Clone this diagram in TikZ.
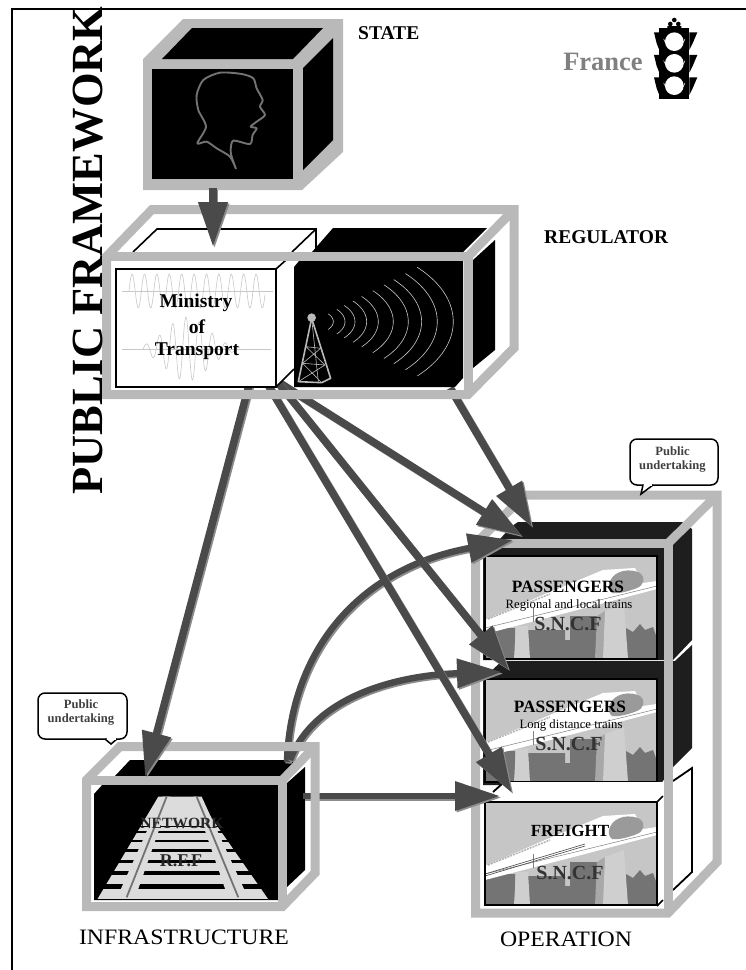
\documentclass[tikz,border=0pt]{standalone}
\usepackage{fontspec}
\setmainfont{Liberation Serif}
\usetikzlibrary{arrows.meta}
\definecolor{framegray}{HTML}{B9B9B9}
\definecolor{arrowdark}{HTML}{4A4A4A}
\definecolor{arrowlight}{HTML}{8C8C8C}
\definecolor{opdark}{HTML}{1E1E1E}
\definecolor{picbg}{HTML}{C6C6C6}
\definecolor{citygray}{HTML}{747474}
\definecolor{pillar}{HTML}{CFCFCF}
\definecolor{pillarb}{HTML}{A8A8A8}
\definecolor{nosegray}{HTML}{9A9A9A}
\definecolor{wavegray}{HTML}{C8C8C8}
\definecolor{railgray}{HTML}{DCDCDC}
\newcommand\fsz[1]{\fontsize{#1}{#1}\selectfont}
\tikzset{
  wire/.style={draw=framegray,line width=9pt,line join=miter},
  bigarrow/.style={line width=7.5pt,draw=arrowdark,-{Triangle[length=45pt,width=28pt]}},
  curvearrow/.style={bigarrow,line width=6.5pt},
  arrowshadow/.style={draw=arrowlight,transform canvas={xshift=1.5pt,yshift=-1.5pt}},
  labelb/.style={inner sep=0pt,font=\bfseries},
  labelr/.style={inner sep=0pt},
  bubble/.style={draw=black,fill=white,line width=1.5pt,rounded corners=7pt},
  bubbletail/.style={draw=black,fill=white,line width=1.5pt},
  bubbletext/.style={inner sep=0pt,align=center,text=black!75,font=\bfseries\fsz{12.6}}
}
\newcommand\duparrow[1]{\draw[bigarrow,arrowshadow] #1; \draw[bigarrow] #1;}
\newcommand\dupcurve[1]{\draw[curvearrow,arrowshadow] #1; \draw[curvearrow] #1;}
\newcommand\trainpic[3]{%
\begin{scope}[shift={(#1,#2)}]
\fill[picbg] (0,0) rectangle (172,103);
\fill[citygray] (0,103)--(0,76)--(8,76)--(8,72)--(30,72)--(30,103)--cycle;
\fill[citygray] (43,103)--(43,74)--(80,74)--(80,84)--(85,84)--(85,60)--(112,60)--(112,103)--cycle;
\fill[citygray] (141,103)--(141,72)--(148,76)--(155,68)--(160,74)--(168,71)--(172,82)--(172,103)--cycle;
\fill[pillar] (31,70)--(43,70)--(45,103)--(29,103)--cycle;
\fill[pillarb] (112,60)--(120,55)--(120,103)--(110,103)--cycle;
\fill[pillar] (120,55)--(139,48)--(143,103)--(118,103)--cycle;
\fill[white] (0,64)--(60,38)--(118,14)--(150,12)--(158,27)--(172,25)--(172,33)--(100,52)--(0,78)--cycle;
\draw[gray,line width=.5pt] (0,72)--(172,30);
\draw[gray,line width=.4pt] (48,52)--(48,66);
\draw[gray!60,line width=1.5pt,dash pattern=on 2pt off 1pt] (3,63)--(65,38);
\fill[nosegray] (125,25) .. controls (130,14) and (145,12) .. (155,17) .. controls (161,22) and (159,29) .. (152,32) .. controls (142,36) and (132,38) .. (127,37) .. controls (123,34) and (123,29) .. (125,25) -- cycle;
#3
\draw[black,line width=1.8pt] (0,0) rectangle (172,103);
\end{scope}}
\begin{document}
\begin{tikzpicture}[x=1pt,y=-1pt]
\useasboundingbox (0,0) rectangle (746,970);
\fill[white] (0,0) rectangle (746,970);
\coordinate (fr-a) at (746,9); \coordinate (fr-b) at (12,9); \coordinate (fr-c) at (12,970);
\draw[black,line width=2pt] (fr-a)--(fr-b)--(fr-c);

%% OPERATION boxes
\fill[opdark] (500,539) -- (512,526) -- (518,522) -- (682,522) -- (692,529) -- (692,640) -- (673,660) -- (483,660) -- (483,539) -- cycle;
\trainpic{485}{556}{}
\fill[opdark] (490,672) -- (502,661) -- (675,661) -- (692,645) -- (692,748) -- (673,767) -- (660,785) -- (483,785) -- (483,672) -- cycle;
\trainpic{485}{679}{}
\fill[white] (493,792) -- (503,782) -- (673,782) -- (691,768) -- (692,872) -- (673,890) -- (660,906) -- (657,802) -- (490,802) -- cycle;
\draw[black,line width=1.8pt] (493,792)--(503,783);
\draw[black,line width=1.8pt] (673,781)--(692,768)--(692,872)--(673,890);
\trainpic{485}{802}{\draw[black!70,line width=.6pt] (0,72)--(100,42) (0,74)--(100,44);}
\draw[black,line width=1.5pt] (657,802)--(663,796) (657,906)--(663,900);
\draw[wire] (475.5,543.5)--(525,495)--(717,495)--(717,862)--(668,913)--(475.5,913)--cycle;
\draw[wire] (475.5,543.5)--(668,543.5)--(668,913);
\draw[wire] (668,543.5)--(717,495);

%% INFRASTRUCTURE black parts
\fill[black] (115,776)--(130,760)--(298,760)--(278,778)--cycle;
\fill[black] (287,783)--(305,767)--(305,870)--(287,887)--cycle;
\fill[black] (94,794)--(103,784)--(278,784)--(278,900)--(94,900)--cycle;
\begin{scope}[shift={(20,680)},x=.3333pt,y=-.3333pt]
\fill[railgray] (415,350)--(530,350)--(745,658)--(232,658)--cycle;
\foreach \yy/\hh in {437/3,453/5,480/7,507/8,541/9,573/11,612/16}{
  \fill[black] ({415-(\yy-350)*.594-12},\yy) rectangle ({530+(\yy-350)*.698+12},\yy+\hh);
}
\fill[railgray] (427,350)--(452,350)--(345,655)--(290,655)--cycle;
\fill[railgray] (520,350)--(545,350)--(685,655)--(625,655)--cycle;
\draw[gray!90!black,line width=1.8pt] (440,350)--(320,652) (530,350)--(655,652);
\fill[black] (232,658) rectangle (745,661);
\end{scope}
\node[labelb,text=black!85,font=\bfseries\fsz{15.6}] (tnet) at (182,823) {NETWORK};
\node[labelb,text=black!85,font=\bfseries\fsz{18}] (trff) at (181,861) {R.F.F};

%% named arrow ends
\coordinate (inf-f) at (287,762);
\coordinate (inf-g) at (290,760);
\coordinate (inf-h) at (303,796);
\coordinate (op-f) at (513,540);
\coordinate (op-g) at (502,672);
\coordinate (op-h) at (500,796);
\coordinate (reg-a) at (450,388);
\coordinate (reg-b) at (280,383);
\coordinate (reg-c) at (279,384);
\coordinate (reg-d) at (268,385);
\coordinate (reg-e) at (249,385);
\coordinate (op-a) at (532,527);
\coordinate (op-b) at (522,536);
\coordinate (op-c) at (509,670);
\coordinate (op-d) at (512,793);
\coordinate (inf-e) at (145,777);
\coordinate (st-a) at (213,188);
\coordinate (reg-top) at (213,247);

%% arrows out of infrastructure
\dupcurve{(inf-f) .. controls (290,660) and (350,570) .. (op-f)}
\dupcurve{(inf-g) .. controls (315,695) and (400,675) .. (op-g)}
\dupcurve{(inf-h) -- (op-h)}
%% infrastructure frame
\draw[wire] (86.5,780)--(120,746.5)--(315,746.5)--(315,873)--(282.5,906.5)--(86.5,906.5)--cycle;
\draw[wire] (86.5,780)--(282.5,780)--(282.5,906.5);
\draw[wire] (282.5,780)--(315,746.5);

%% arrows out of regulator
\duparrow{(reg-a) -- (op-a)}
\duparrow{(reg-b) -- (op-b)}
\duparrow{(reg-c) -- (op-c)}
\duparrow{(reg-d) -- (op-d)}
\duparrow{(reg-e) -- (inf-e)}

%% REGULATOR
\fill[white] (116,269)--(157,229)--(316,229)--(316,347)--(276,387)--(116,387)--cycle;
\draw[black,line width=1.6pt] (133,252)--(157,229)--(316,229)--(316,252);
\draw[black,line width=1.6pt] (292,252)--(316,229);
\draw[black,line width=1.6pt] (276,269)--(286,260);
\draw[black,line width=1.6pt] (276,387)--(294,369);
\draw[black,line width=2pt] (116,269) rectangle (276,387);
\draw[wavegray,line width=.6pt] (122,291)--(273,291) (122,349)--(271,349);
\draw[wavegray,line width=.6pt] plot[domain=129:265,samples=180,smooth] (\x,{291-17*sin(29.03*(\x-129))});
\draw[wavegray,line width=.6pt] plot[domain=143:240,samples=160,smooth] (\x,{349-32*exp(-((\x-187)/30)^2)*sin(27.27*(\x-143))});
\node[labelb,font=\bfseries\fsz{19.5}] (tmin) at (196,303) {Ministry};
\node[labelb,font=\bfseries\fsz{19.5}] (tof) at (197,327) {of};
\node[labelb,font=\bfseries\fsz{19.5}] (ttrans) at (197,351) {Transport};
\fill[black] (312,252)--(333,228)--(487,228)--(463,252)--cycle;
\fill[black] (473,260)--(495,240)--(495,350)--(473,368)--cycle;
\fill[black] (294,267)--(299,261)--(463,261)--(463,378)--(455,387)--(294,387)--cycle;
\begin{scope}[shift={(80,190)},x=.3333pt,y=-.3333pt]
\foreach \r in {60,95,125,160,195,240,285,325,372,420}{
  \draw[wavegray,line width=.6pt] plot[domain=-42:42,samples=30,smooth,variable=\t] ({700+\r*cos(\t)},{395+.58*\r*sin(\t)});
}
\draw[framegray,line width=1.6pt,line join=round] (695,385)--(655,575)--(725,578)--(752,565)--cycle;
\draw[framegray,line width=.6pt] (695,385)--(715,575) (678,470)--(722,475) (668,520)--(735,525) (678,470)--(735,525) (722,475)--(668,520) (668,520)--(725,578) (735,525)--(655,575);
\fill[framegray] (695,383) circle (13);
\end{scope}
\draw[wire] (106.5,256.5)--(152,209.5)--(514,209.5)--(514,348)--(468,394.5)--(106.5,394.5)--cycle;
\draw[wire] (106.5,256.5)--(468,256.5)--(468,394.5);
\draw[wire] (468,256.5)--(514,209.5);

%% STATE
\fill[framegray] (143,59)--(183,19)--(343,19)--(343,152)--(302,190)--(143,190)--cycle;
\fill[black] (162,59)--(192,28)--(323,28)--(293,59)--cycle;
\fill[black] (303,68)--(333,38)--(333,140)--(303,170)--cycle;
\fill[black] (152,69) rectangle (293,179);
\begin{scope}[shift={(60,0)},x=.3333pt,y=-.3333pt]
\draw[black!55,line width=1.9pt,line join=round] plot[smooth,tension=.45] coordinates {(528,507)(510,470)(470,445)(440,425)(412,430)(438,380)(415,330)(410,285)(430,240)(480,218)(545,222)(580,235)(590,265)(608,300)(600,320)(615,345)(590,365)(572,380)(590,385)(578,405)(570,432)(520,422)(512,450)(515,470)(528,507)};
\end{scope}
\duparrow{(st-a) -- (reg-top)}

%% bubbles
\draw[bubble] (630,439) rectangle (718,485);
\draw[bubbletail] (653,485)--(641,494)--(643,485);
\fill[white] (644,483.5) rectangle (652,486);
\node[bubbletext] (bub1) at (672.5,459.5) {Public\\[1pt]undertaking};
\draw[bubble] (38,693) rectangle (127,739);
\draw[bubbletail] (117,739)--(111,744)--(105,739);
\fill[white] (106.5,737.5) rectangle (115.5,740);
\node[bubbletext] (bub2) at (81,712.5) {Public\\[1pt]undertaking};

%% traffic light
\begin{scope}[shift={(560,0)},x=.3333pt,y=-.3333pt]
\foreach \d in {0,68,135}{
  \fill[black] (282,{97+\d})--(298,{97+\d})--(298,{150+\d})--(290,{130+\d})--cycle;
  \fill[black] (412,{97+\d})--(388,{97+\d})--(388,{150+\d})--(398,{130+\d})--cycle;
}
\fill[black] (298,85) rectangle (388,298);
\fill[black] (343,60) circle (7) (331,72) circle (7) (355,72) circle (7) (322,78) rectangle (364,84);
\fill[white] (343,72) circle (4);
\foreach \y in {125,190,257}{
  \fill[white] (343,\y) circle (28);
  \draw[white,line width=.5pt] (311,{\y-8}) arc[start angle=165,end angle=15,radius=33];
}
\end{scope}

%% text
\node[labelb,anchor=base west,rotate=90,font=\bfseries\fsz{44.5}] (tpub) at (102,495) {PUBLIC FRAMEWORK};
\node[labelb,anchor=west,font=\bfseries\fsz{19.5}] (tstate) at (358,33) {STATE};
\node[labelb,anchor=west,font=\bfseries\fsz{19.5}] (treg) at (544,237) {REGULATOR};
\node[labelb,text=black!50,font=\bfseries\fsz{26.5}] (tfr) at (603,62) {France};
\node[labelb,font=\bfseries\fsz{17.3}] (tp1) at (568,587) {PASSENGERS};
\node[labelr,font=\fsz{12.7}] (tp1b) at (569,605) {Regional and local trains};
\node[labelb,text=black!80,font=\bfseries\fsz{20}] (ts1) at (568,624) {S.N.C.F};
\node[labelb,font=\bfseries\fsz{17.3}] (tp2) at (570,707) {PASSENGERS};
\node[labelr,font=\fsz{12.7}] (tp2b) at (571,725) {Long distance trains};
\node[labelb,text=black!80,font=\bfseries\fsz{20}] (ts2) at (569,744) {S.N.C.F};
\node[labelb,font=\bfseries\fsz{17}] (tfre) at (570,831) {FREIGHT};
\node[labelb,text=black!80,font=\bfseries\fsz{20}] (ts3) at (570,873) {S.N.C.F};
\node[labelr,font=\fsz{22},xscale=1.08] (tinf) at (184,937) {INFRASTRUCTURE};
\node[labelr,font=\fsz{22},xscale=1.08] (top) at (566,939) {OPERATION};
\end{tikzpicture}
\end{document}
